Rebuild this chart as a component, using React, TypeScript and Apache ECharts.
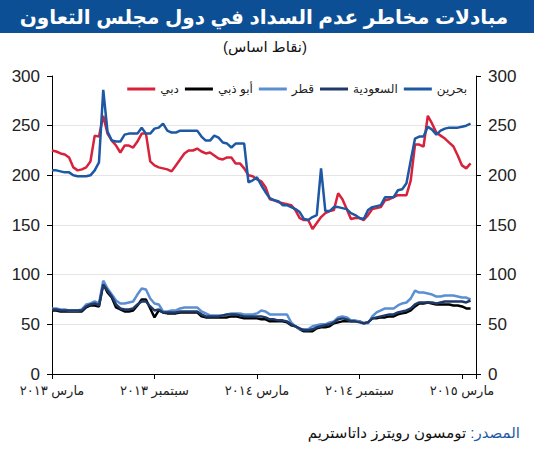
import React, { useEffect, useRef } from 'react';
import * as echarts from 'echarts';

// x is measured in months since March 2013, one sample per week
const STEP_MONTHS = 0.25;
const X_MAX = 24.82;

const TITLE = 'مبادلات مخاطر عدم السداد في دول مجلس التعاون';
const SUBTITLE = '(نقاط اساس)';
const SOURCE_LABEL = ' :' + 'المصدر';
const SOURCE_TEXT = 'تومسون رويترز داتاستريم';

const TICK_LABELS = ['مارس ٢٠١٣', 'سبتمبر ٢٠١٣', 'مارس ٢٠١٤', 'سبتمبر ٢٠١٤', 'مارس ٢٠١٥'];
const SERIES_NAMES = ['دبي', 'أبو ذبي', 'قطر', 'السعودية', 'بحرين'];
const COLORS = ['#d8213b', '#000000', '#5b8fd3', '#1f3a68', '#1c58a3'];

const DUBAI = [
  225, 224, 222, 221, 218, 208, 205, 206, 208, 214,
  240, 239, 260, 242, 235, 230, 223, 230, 230, 228,
  234, 242, 242, 214, 210, 208, 207, 206, 204, 210,
  216, 222, 225, 225, 227, 224, 222, 223, 220, 217,
  216, 218, 218, 212, 212, 207, 200, 199, 196, 194,
  188, 176, 175, 173, 172, 171, 170, 165, 157, 155,
  155, 146, 152, 158, 162, 164, 165, 182, 176, 166,
  156, 157, 157, 155, 160, 166, 167, 168, 175, 176,
  178, 180, 180, 180, 195, 231, 231, 229, 260, 252,
  243, 240, 237, 233, 229, 220, 210, 207, 212,
];

const ABU_DHABI = [
  64, 64, 63, 63, 63, 63, 63, 63, 67, 69,
  69, 68, 91, 82, 77, 67, 65, 63, 63, 64,
  69, 75, 75, 66, 57, 64, 62, 61, 61, 61,
  62, 62, 62, 62, 62, 58, 57, 57, 57, 57,
  57, 57, 58, 58, 57, 56, 56, 56, 56, 55,
  55, 53, 53, 53, 53, 52, 49, 48, 45, 43,
  43, 43, 46, 47, 47, 48, 51, 52, 53, 53,
  53, 53, 53, 51, 52, 56, 56, 57, 57, 58,
  58, 60, 61, 62, 64, 68, 71, 71, 72, 71,
  70, 70, 70, 70, 69, 69, 68, 66, 66,
];

const QATAR = [
  66, 66, 65, 65, 64, 64, 64, 65, 70, 71,
  73, 71, 94, 86, 80, 74, 71, 71, 72, 73,
  80, 86, 85, 76, 71, 70, 63, 63, 64, 64,
  66, 67, 67, 67, 67, 63, 61, 59, 59, 59,
  59, 60, 61, 61, 61, 60, 60, 60, 61, 64,
  63, 60, 60, 60, 60, 60, 52, 48, 45, 45,
  45, 48, 49, 50, 50, 52, 53, 57, 58, 57,
  54, 54, 53, 51, 51, 58, 62, 64, 66, 66,
  66, 69, 71, 72, 76, 84, 82, 82, 81, 80,
  78, 78, 79, 79, 79, 78, 77, 77, 75,
];

const SAUDI = [
  65, 65, 64, 64, 64, 64, 64, 64, 68, 70,
  71, 69, 90, 84, 78, 70, 66, 65, 65, 66,
  70, 73, 73, 68, 64, 65, 62, 62, 62, 62,
  63, 63, 63, 63, 63, 60, 58, 58, 58, 58,
  59, 60, 60, 60, 59, 58, 58, 58, 58, 58,
  57, 55, 55, 54, 54, 53, 50, 48, 46, 44,
  44, 45, 47, 48, 49, 50, 52, 55, 56, 55,
  53, 53, 52, 51, 52, 56, 57, 58, 59, 60,
  60, 62, 63, 64, 66, 70, 72, 72, 72, 72,
  71, 72, 73, 73, 73, 73, 73, 72, 74,
];

const BAHRAIN = [
  205, 205, 204, 203, 203, 200, 199, 199, 199, 200,
  205, 213, 286, 244, 235, 234, 234, 241, 242, 242,
  242, 248, 242, 242, 247, 248, 252, 245, 243, 243,
  245, 245, 245, 245, 245, 239, 235, 235, 240, 238,
  233, 232, 228, 232, 232, 232, 193, 195, 198, 190,
  183, 177, 175, 174, 170, 170, 168, 166, 163, 156,
  155, 158, 160, 207, 164, 164, 168, 168, 167, 166,
  162, 160, 157, 156, 165, 168, 169, 170, 178, 178,
  178, 185, 186, 192, 215, 237, 239, 239, 249, 246,
  241, 245, 247, 248, 248, 248, 249, 250, 252,
];

const SERIES_VALUES = [DUBAI, ABU_DHABI, QATAR, SAUDI, BAHRAIN];

const FONT = 'Arial, "Liberation Sans", "DejaVu Sans", sans-serif';

export default function App() {
  const chartRef = useRef<HTMLDivElement>(null);

  useEffect(() => {
    if (!chartRef.current) return;
    const chart = echarts.init(chartRef.current, undefined, { renderer: 'svg' });

    const valueAxis = (position: 'left' | 'right') => ({
      type: 'value' as const,
      position,
      min: 0,
      max: 300,
      interval: 50,
      axisLine: { show: true, lineStyle: { color: '#000', width: 1 } },
      axisTick: { show: true, length: 5, lineStyle: { color: '#000' } },
      splitLine: {
        show: position === 'left',
        showMaxLine: false,
        showMinLine: false,
        lineStyle: { color: '#e4e4e4', width: 1 },
      },
      axisLabel: { fontSize: 17, color: '#222', margin: 12, fontFamily: FONT },
    });

    chart.setOption({
      animation: false,
      backgroundColor: '#fff',
      textStyle: { fontFamily: FONT },
      grid: { left: 52, right: 58, top: 76, bottom: 76, containLabel: false },
      legend: {
        data: SERIES_NAMES,
        top: 78,
        right: 62,
        icon: 'rect',
        itemWidth: 28,
        itemHeight: 3,
        itemGap: 6,
        textStyle: { fontSize: 12, color: '#222', fontFamily: FONT },
      },
      xAxis: {
        type: 'value',
        min: 0,
        max: X_MAX,
        interval: 6,
        axisLine: { lineStyle: { color: '#000', width: 1 } },
        axisTick: { length: 5, lineStyle: { color: '#000' } },
        splitLine: { show: false },
        axisLabel: {
          fontSize: 13,
          color: '#222',
          margin: 10,
          fontFamily: FONT,
          formatter: (v: number) => TICK_LABELS[v / 6] ?? '',
        },
      },
      yAxis: [valueAxis('left'), valueAxis('right')],
      graphic: [
        {
          type: 'rect',
          x: 0,
          y: 0,
          shape: { width: 534, height: 33 },
          style: { fill: '#0d4f95' },
        },
        {
          type: 'text',
          x: 264,
          y: 17,
          style: {
            text: TITLE,
            fill: '#fff',
            fontSize: 20,
            fontWeight: 'bold',
            fontFamily: FONT,
            align: 'center',
            verticalAlign: 'middle',
          },
        },
        {
          type: 'text',
          x: 265,
          y: 46,
          style: {
            text: SUBTITLE,
            fill: '#111',
            fontSize: 15,
            fontFamily: FONT,
            align: 'center',
            verticalAlign: 'middle',
          },
        },
        {
          type: 'text',
          x: 520,
          y: 432,
          style: {
            text: `{b|${SOURCE_TEXT}}{a|${SOURCE_LABEL}}`,
            align: 'right',
            verticalAlign: 'middle',
            fontSize: 15,
            fontFamily: FONT,
            rich: {
              a: { fill: '#1f5aa6', fontSize: 15, fontFamily: FONT },
              b: { fill: '#111', fontSize: 15, fontFamily: FONT },
            },
          },
        },
      ],
      series: SERIES_NAMES.map((name, s) => ({
        name,
        type: 'line',
        yAxisIndex: 0,
        symbol: 'none',
        color: COLORS[s],
        lineStyle: { color: COLORS[s], width: 2.5 },
        data: SERIES_VALUES[s].map((v, i) => [i * STEP_MONTHS, v]),
      })),
    });

    return () => {
      chart.dispose();
    };
  }, []);

  return (
    <div style={{ position: 'fixed', left: 0, top: 0, width: 534, height: 450, background: '#fff' }}>
      <div ref={chartRef} style={{ width: 534, height: 450 }} />
    </div>
  );
}
